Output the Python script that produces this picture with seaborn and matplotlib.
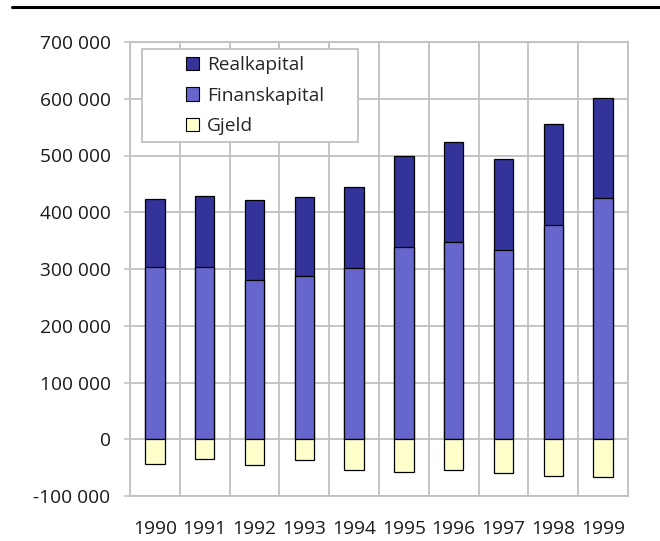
import pandas as pd
import seaborn as sns
import matplotlib.pyplot as plt
from matplotlib.patches import Patch, Rectangle
from matplotlib.lines import Line2D
from matplotlib.ticker import FuncFormatter

# values (mill. kr)
years = ['1990', '1991', '1992', '1993', '1994', '1995', '1996', '1997', '1998', '1999']
finanskapital = [304000, 304000, 281000, 287000, 301000, 338000, 348000, 333000, 378000, 425000]
realkapital = [120000, 124000, 140000, 139000, 144000, 162000, 175000, 161000, 177000, 176000]
gjeld = [-43000, -35000, -45000, -37000, -54000, -57000, -55000, -59000, -65000, -67000]

df = pd.DataFrame({'year': years, 'fin': finanskapital, 'real': realkapital, 'gjeld': gjeld})
df['total'] = df['fin'] + df['real']

c_real = '#333399'
c_fin = '#6666CC'
c_gjeld = '#FFFFCC'
c_grid = '#C0C0C0'
fs = 13.8

sns.set_style('white')
plt.rcParams['font.family'] = ['Open Sans', 'DejaVu Sans']

fig = plt.figure(figsize=(6.6, 5.41), dpi=100)
ax = fig.add_axes([130 / 660, 45 / 541, 498 / 660, 454 / 541])

bar_kw = dict(width=0.39, edgecolor='black', linewidth=0.9, zorder=3)
sns.barplot(x='year', y='total', data=df, color=c_real, ax=ax, saturation=1, **bar_kw)
sns.barplot(x='year', y='fin', data=df, color=c_fin, ax=ax, saturation=1, **bar_kw)
sns.barplot(x='year', y='gjeld', data=df, color=c_gjeld, ax=ax, saturation=1, **bar_kw)

ax.set_xlim(-0.5, len(years) - 0.5)
ax.set_ylim(-100000, 700000)
ax.set_yticks(range(-100000, 700001, 100000))
ax.yaxis.set_major_formatter(FuncFormatter(lambda v, p: f'{int(v):,}'.replace(',', ' ')))
ax.set_xlabel('')
ax.set_ylabel('')

# grid: horizontal at ticks, vertical between categories
for yv in range(-100000, 700001, 100000):
    ax.axhline(yv, color=c_grid, lw=1.3, zorder=1)
for xv in range(len(years) + 1):
    ax.axvline(xv - 0.5, color=c_grid, lw=1.3, zorder=1)
for s in ax.spines.values():
    s.set_color(c_grid)
    s.set_linewidth(1.3)

ax.tick_params(axis='y', length=4, width=1.1, color=c_grid, pad=10, labelsize=fs, labelcolor='#1a1a1a', left=True)
ax.tick_params(axis='x', length=0, pad=17, labelsize=fs, labelcolor='#1a1a1a')

# legend box
ax.add_patch(Rectangle((12 / 498, (496 - 142) / 454), 216 / 498, 93 / 454, transform=ax.transAxes,
                       facecolor='white', edgecolor=c_grid, lw=1.3, zorder=4))
handles = [Patch(facecolor=c_real, edgecolor='black', lw=0.8, label='Realkapital'),
           Patch(facecolor=c_fin, edgecolor='black', lw=0.8, label='Finanskapital'),
           Patch(facecolor=c_gjeld, edgecolor='black', lw=0.8, label='Gjeld')]
leg = ax.legend(handles=handles, loc='upper left', bbox_to_anchor=(56 / 498, (496 - 56) / 454),
                frameon=False, fontsize=fs, handlelength=0.68, handleheight=0.68,
                handletextpad=0.4, labelspacing=0.66, borderpad=0, borderaxespad=0)
leg.set_zorder(5)

# black rule at the top of the figure
fig.add_artist(Line2D([12 / 660, 1.0], [1 - 7 / 541, 1 - 7 / 541], color='black', lw=2.2,
                      transform=fig.transFigure))

plt.savefig('out.png', dpi=100)
